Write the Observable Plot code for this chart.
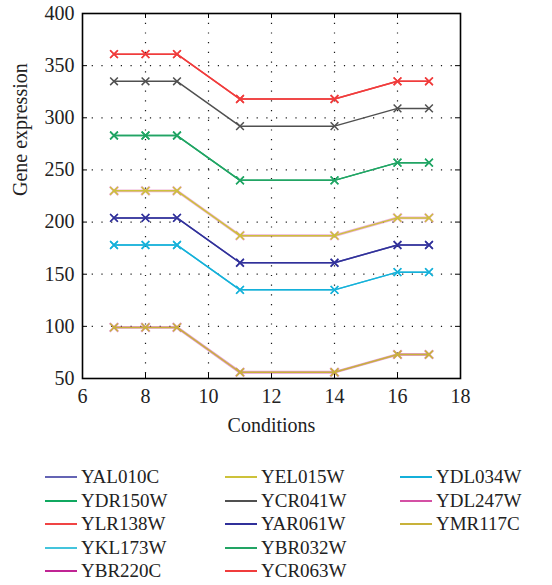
<!DOCTYPE html>
<html>
<head>
<meta charset="utf-8">
<script src="https://cdn.jsdelivr.net/npm/d3@7"></script>
<script src="https://cdn.jsdelivr.net/npm/@observablehq/plot@0.6"></script>
<style>
  html, body { margin: 0; padding: 0; background: #fff; }
  #wrap { position: relative; width: 552px; height: 585px; font-family: "Liberation Serif", "DejaVu Serif", serif; }
  #legend { position: absolute; left: 0; top: 0; width: 552px; height: 585px; pointer-events: none; }
  .item { position: absolute; display: flex; align-items: center; height: 24px; font-size: 19px; color: #222; }
  .sw { display: inline-block; width: 32px; height: 0; border-top: 2.5px solid; margin-right: 4px; }
</style>
</head>
<body>
<div id="wrap"><div id="chart"></div><div id="legend"></div></div>
<script>
// Conditions (x values)
const conditions = [7, 8, 9, 11, 14, 16, 17];

// Series values (gene expression)
const YAL010C = [204, 204, 204, 161, 161, 178, 178];
const YDR150W = [283, 283, 283, 240, 240, 257, 257];
const YLR138W = [361, 361, 361, 318, 318, 335, 335];
const YKL173W = [178, 178, 178, 135, 135, 152, 152];
const YBR220C = [99, 99, 99, 56, 56, 73, 73];
const YEL015W = [230, 230, 230, 187, 187, 204, 204];
const YCR041W = [335, 335, 335, 292, 292, 309, 309];
const YAR061W = [204, 204, 204, 161, 161, 178, 178];
const YBR032W = [283, 283, 283, 240, 240, 257, 257];
const YCR063W = [361, 361, 361, 318, 318, 335, 335];
const YDL034W = [178, 178, 178, 135, 135, 152, 152];
const YDL247W = [230, 230, 230, 187, 187, 204, 204];
const YMR117C = [99, 99, 99, 56, 56, 73, 73];

// Legend order (column-major) and colours
const genes = ["YAL010C","YDR150W","YLR138W","YKL173W","YBR220C",
               "YEL015W","YCR041W","YAR061W","YBR032W","YCR063W",
               "YDL034W","YDL247W","YMR117C"];
const colors = ["#6464b4","#10a860","#f04444","#44c4dc","#c02494",
                "#cdc23a","#505050","#30309a","#22a464","#f03c3c",
                "#14b0da","#d450a4","#c8b23a"];
// series drawn as wider underlays (hidden beneath identical series)
const underlay = ["YBR220C", "YDL247W"];

// Axis ticks
const xTicks = [6, 8, 10, 12, 14, 16, 18];
const yTicks = [50, 100, 150, 200, 250, 300, 350, 400];
const xGrid = [8, 10, 12, 14, 16];
const yGrid = [100, 150, 200, 250, 300, 350];

const seriesValues = {YAL010C, YDR150W, YLR138W, YKL173W, YBR220C, YEL015W, YCR041W,
  YAR061W, YBR032W, YCR063W, YDL034W, YDL247W, YMR117C};
const colorOf = Object.fromEntries(genes.map((g, i) => [g, colors[i]]));

// draw order: underlays first, then the rest
const drawOrder = [...underlay, ...genes.filter(g => !underlay.includes(g))];
const rows = drawOrder.flatMap(g => seriesValues[g].map((v, i) => ({gene: g, x: conditions[i], y: v})));
const under = rows.filter(d => underlay.includes(d.gene));
const over = rows.filter(d => !underlay.includes(d.gene));

const tickStyle = {stroke: "#000", strokeWidth: 1};
const chart = Plot.plot({
  width: 552,
  height: 445,
  marginLeft: 82,
  marginRight: 92,
  marginTop: 13,
  marginBottom: 67,
  style: {fontFamily: "Liberation Serif, DejaVu Serif, serif", fontSize: "20px", color: "#222", background: "#fff"},
  x: {domain: [6, 18]},
  y: {domain: [50, 400]},
  marks: [
    Plot.gridX(xGrid, {stroke: "#000", strokeOpacity: 0.9, strokeWidth: 1.2, strokeDasharray: "1.2,8.5"}),
    Plot.gridY(yGrid, {stroke: "#000", strokeOpacity: 0.9, strokeWidth: 1.2, strokeDasharray: "1.2,8.5"}),
    // inward ticks (MATLAB style)
    Plot.ruleX(xTicks, {x: d => d, y1: 50, y2: 50, insetBottom: 5, ...tickStyle}),
    Plot.ruleX(xTicks, {x: d => d, y1: 400, y2: 400, insetTop: 5, ...tickStyle}),
    Plot.ruleY(yTicks, {y: d => d, x1: 6, x2: 6, insetRight: -5, ...tickStyle}),
    Plot.ruleY(yTicks, {y: d => d, x1: 18, x2: 18, insetLeft: -5, ...tickStyle}),
    Plot.axisX(xTicks, {tickSize: 0, tickPadding: 10, label: null, fontSize: 20}),
    Plot.axisY(yTicks, {tickSize: 0, tickPadding: 8, label: null, fontSize: 20}),
    Plot.text(["Conditions"], {frameAnchor: "bottom", dy: 53, fontSize: 20, fill: "#222"}),
    Plot.text(["Gene expression"], {frameAnchor: "left", dx: -62, rotate: -90, fontSize: 20, fill: "#222"}),
    Plot.line(under, {x: "x", y: "y", z: "gene", stroke: d => colorOf[d.gene], strokeWidth: 2.8, strokeOpacity: 0.45}),
    Plot.dot(under, {x: "x", y: "y", stroke: d => colorOf[d.gene], symbol: "times", r: 4, strokeWidth: 2.2, strokeOpacity: 0.45}),
    Plot.line(over, {x: "x", y: "y", z: "gene", stroke: d => colorOf[d.gene], strokeWidth: 1.5}),
    Plot.dot(over, {x: "x", y: "y", stroke: d => colorOf[d.gene], symbol: "times", r: 3.6, strokeWidth: 1.5}),
    Plot.frame({stroke: "#000", strokeWidth: 1.6})
  ]
});
document.getElementById("chart").appendChild(chart);

// Legend below the plot (5 rows per column)
const colLeft = [45, 225, 400];
const legend = document.getElementById("legend");
genes.forEach((g, i) => {
  const col = Math.floor(i / 5), row = i % 5;
  const el = document.createElement("div");
  el.className = "item";
  el.style.left = colLeft[col] + "px";
  el.style.top = (465 + row * 23.6) + "px";
  const sw = document.createElement("span");
  sw.className = "sw";
  sw.style.borderTopColor = colorOf[g];
  el.appendChild(sw);
  el.appendChild(document.createTextNode(g));
  legend.appendChild(el);
});
</script>
</body>
</html>
